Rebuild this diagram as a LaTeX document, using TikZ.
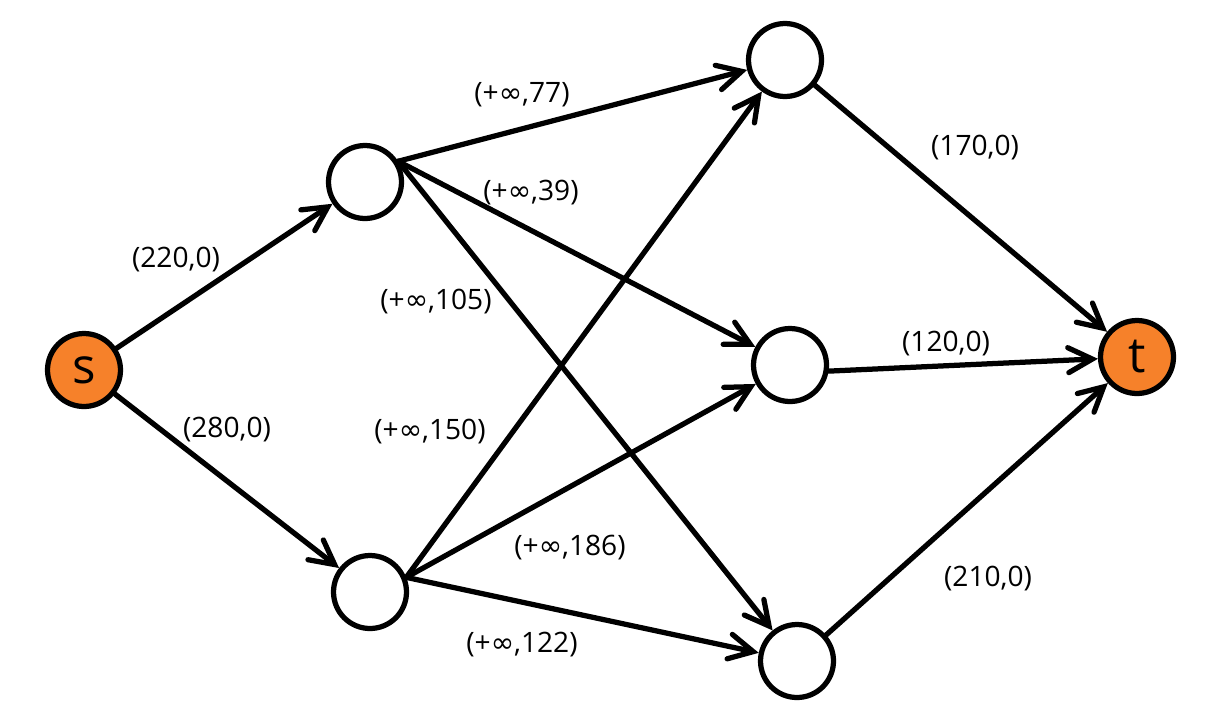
\documentclass[tikz,border=0pt]{standalone}
\usepackage{fontspec}
\setmainfont{Open Sans}
\newfontfamily\symfont{DejaVu Sans}
\usetikzlibrary{arrows.meta}
\definecolor{flow}{HTML}{F6812A}
\newcommand{\pinf}{+{\symfont ∞}}
\begin{document}
\begin{tikzpicture}[x=0.02cm,y=-0.02cm,
  vtx/.style={circle,draw,line width=0.105cm,minimum size=1.46cm,inner sep=0pt},
  term/.style={vtx,fill=flow,font=\fontsize{28}{30}\selectfont},
  arc/.style={line width=0.105cm,line cap=round,-{Straight Barb[length=0.48cm,width=0.5cm,line cap=round]}},
  lbl/.style={font=\fontsize{16}{20}\selectfont}]
  \useasboundingbox (0,0) rectangle (1220,724);
  % vertices
  \node[term] (s) at (84,370) {s};
  \node[vtx] (a) at (365,182) {};
  \node[vtx] (b) at (370,592) {};
  \node[vtx] (c) at (785,60) {};
  \node[vtx] (d) at (790,365) {};
  \node[vtx] (e) at (797,661) {};
  \node[term] (t) at (1137,357) {t};
  % arcs
  \draw[arc] (s) -- (a);
  \draw[arc] (s) -- (b);
  \draw[arc] (a.32) -- (c);
  \draw[arc] (a.32) -- (d);
  \draw[arc] (a.32) -- (e);
  \draw[arc] (b.22) -- (c);
  \draw[arc] (b.22) -- (d);
  \draw[arc] (b.22) -- (e);
  \draw[arc] (c) -- (t);
  \draw[arc] (d.-9) -- (t);
  \draw[arc] (e) -- (t);
  % capacities
  \node[lbl] (lsa) at (176,260) {(220,0)};
  \node[lbl] (lsb) at (227,430) {(280,0)};
  \node[lbl] (lac) at (522,95) {(\pinf,77)};
  \node[lbl] (lad) at (531,193) {(\pinf,39)};
  \node[lbl] (lae) at (436,302) {(\pinf,105)};
  \node[lbl] (lbc) at (430,432) {(\pinf,150)};
  \node[lbl] (lbd) at (570,548) {(\pinf,186)};
  \node[lbl] (lbe) at (522,645) {(\pinf,122)};
  \node[lbl] (lct) at (975,148) {(170,0)};
  \node[lbl] (ldt) at (946,344) {(120,0)};
  \node[lbl] (let) at (988,579) {(210,0)};
\end{tikzpicture}
\end{document}
